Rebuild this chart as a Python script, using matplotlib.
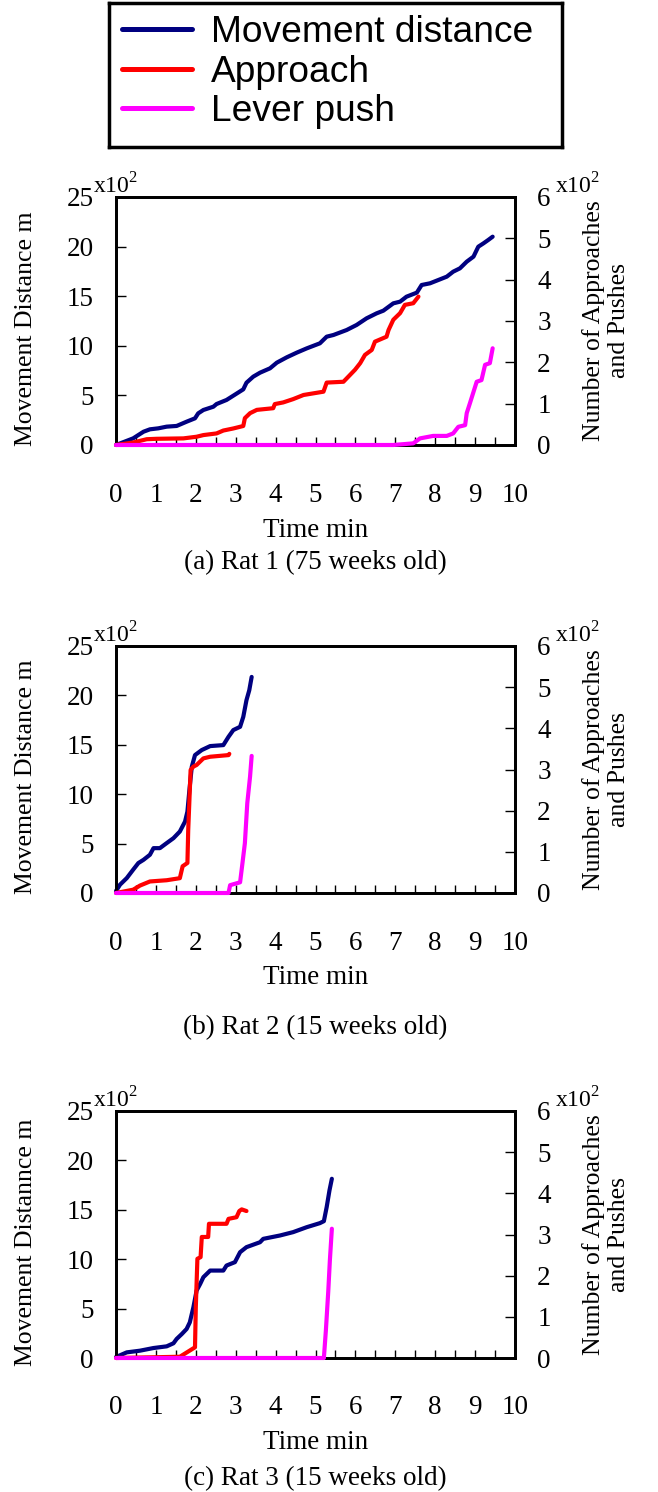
import matplotlib
matplotlib.use('Agg')
import matplotlib.pyplot as plt
from matplotlib.ticker import MultipleLocator

plt.rcParams['font.family'] = 'Liberation Serif'
plt.rcParams['mathtext.fontset'] = 'custom'
plt.rcParams['mathtext.rm'] = 'Liberation Serif'

# values; distance in x10^2 m, counts in x10^2
# Rat 1 (75 weeks old)
r1_dist_t = [0, 0.43, 0.69, 0.85, 1.06, 1.27, 1.52, 1.77, 1.98, 2.06, 2.19, 2.44, 2.52, 2.77, 2.90,
             3.19, 3.27, 3.44, 3.61, 3.86, 4.03, 4.28, 4.53, 4.78, 5.11, 5.28, 5.45, 5.78, 6.03,
             6.28, 6.53, 6.70, 6.95, 7.12, 7.28, 7.54, 7.66, 7.87, 8.29, 8.45, 8.62, 8.79, 8.96,
             9.08, 9.21, 9.33, 9.44]
r1_dist = [0, 0.67, 1.34, 1.58, 1.68, 1.85, 1.92, 2.35, 2.69, 3.19, 3.53, 3.86, 4.13, 4.54, 4.87,
           5.61, 6.28, 6.89, 7.29, 7.73, 8.30, 8.84, 9.31, 9.74, 10.25, 10.92, 11.09, 11.59, 12.10,
           12.77, 13.27, 13.54, 14.28, 14.45, 14.95, 15.36, 16.13, 16.30, 16.97, 17.47, 17.81, 18.48,
           18.99, 19.99, 20.33, 20.67, 21.00]
r1_appr_t = [0, 0.43, 0.77, 1.02, 1.69, 2.02, 2.19, 2.52, 2.69, 2.94, 3.19, 3.23, 3.36, 3.53, 3.94,
             3.98, 4.19, 4.44, 4.70, 4.95, 5.20, 5.28, 5.70, 5.86, 5.99, 6.12, 6.24, 6.41, 6.49,
             6.78, 6.83, 6.95, 7.12, 7.24, 7.45, 7.58]
r1_appr = [0, 0.06, 0.14, 0.15, 0.16, 0.20, 0.24, 0.28, 0.35, 0.40, 0.46, 0.65, 0.77, 0.85, 0.89,
           0.99, 1.03, 1.11, 1.21, 1.25, 1.29, 1.51, 1.53, 1.69, 1.82, 1.98, 2.18, 2.30, 2.50,
           2.62, 2.78, 3.03, 3.19, 3.39, 3.43, 3.59]
r1_push_t = [0, 6.95, 7.45, 7.62, 7.95, 8.29, 8.45, 8.58, 8.75, 8.79, 8.87, 9.04, 9.16, 9.25, 9.37, 9.44]
r1_push = [0, 0, 0.04, 0.16, 0.22, 0.22, 0.28, 0.44, 0.48, 0.77, 1.01, 1.53, 1.57, 1.94, 1.98, 2.34]

# Rat 2 (15 weeks old)
r2_dist_t = [0, 0.10, 0.27, 0.43, 0.56, 0.69, 0.85, 0.94, 1.10, 1.27, 1.44, 1.60, 1.73, 1.79, 1.84,
             1.90, 1.98, 2.15, 2.36, 2.69, 2.82, 2.94, 3.11, 3.19, 3.27, 3.34, 3.40]
r2_dist = [0.2, 0.84, 1.51, 2.36, 3.03, 3.36, 3.87, 4.54, 4.54, 5.05, 5.55, 6.22, 7.23, 8.24, 10.43,
           12.79, 13.96, 14.47, 14.87, 14.97, 15.81, 16.49, 16.82, 17.83, 19.52, 20.52, 21.87]
r2_appr_t = [0, 0.43, 0.60, 0.85, 1.27, 1.60, 1.67, 1.79, 1.81, 1.87, 1.94, 2.02, 2.19, 2.36, 2.82, 2.84]
r2_appr = [0, 0.08, 0.18, 0.28, 0.31, 0.36, 0.65, 0.73, 1.53, 2.99, 3.07, 3.11, 3.27, 3.31, 3.35, 3.38]
r2_push_t = [0, 2.82, 2.86, 3.11, 3.17, 3.23, 3.29, 3.36, 3.40]
r2_push = [0, 0, 0.19, 0.26, 0.73, 1.21, 2.18, 2.83, 3.33]

# Rat 3 (15 weeks old)
r3_dist_t = [0, 0.27, 0.60, 0.94, 1.27, 1.44, 1.52, 1.65, 1.77, 1.85, 1.94, 2.02, 2.11, 2.19, 2.36,
             2.69, 2.77, 2.98, 3.11, 3.27, 3.61, 3.69, 4.11, 4.44, 4.78, 5.11, 5.21, 5.28, 5.35, 5.41]
r3_dist = [0.1, 0.57, 0.74, 1.01, 1.18, 1.49, 1.93, 2.43, 2.94, 3.61, 5.14, 6.82, 7.50, 8.18, 8.85,
           8.85, 9.36, 9.70, 10.71, 11.22, 11.72, 12.06, 12.40, 12.74, 13.24, 13.65, 13.85, 15.27,
           16.96, 18.14]
r3_appr_t = [0, 1.60, 1.98, 2.00, 2.04, 2.12, 2.15, 2.31, 2.33, 2.77, 2.82, 3.02, 3.09, 3.15, 3.27]
r3_appr = [0, 0.03, 0.26, 1.23, 2.41, 2.45, 2.94, 2.94, 3.26, 3.26, 3.38, 3.42, 3.57, 3.61, 3.57]
r3_push_t = [0, 5.21, 5.26, 5.32, 5.36, 5.41]
r3_push = [0, 0, 0.67, 1.62, 2.37, 3.14]

ylabels = ['Movement Distance m', 'Movement Distance m', 'Movement Distannce m']
captions = ['(a) Rat 1 (75 weeks old)', '(b) Rat 2 (15 weeks old)', '(c) Rat 3 (15 weeks old)']
series = [(r1_dist_t, r1_dist, r1_appr_t, r1_appr, r1_push_t, r1_push),
          (r2_dist_t, r2_dist, r2_appr_t, r2_appr, r2_push_t, r2_push),
          (r3_dist_t, r3_dist, r3_appr_t, r3_appr, r3_push_t, r3_push)]
legend_labels = ['Movement distance', 'Approach', 'Lever push']

W, H = 658, 1492
fig = plt.figure(figsize=(W / 100, H / 100), dpi=100)

# axes boxes in pixels: left, top, right, bottom
boxes = [(116, 197, 515, 445), (116, 646, 515, 893), (116, 1111, 515, 1358)]
caption_y = [-0.476, -0.545, -0.487]

fs = 19.5
handles = None
for i in range(3):
    l, t, r, b = boxes[i]
    ax = fig.add_axes([l / W, 1 - b / H, (r - l) / W, (b - t) / H])
    ax2 = ax.twinx()
    dt, d, at, a, pt, p = series[i]
    h1, = ax.plot(dt, d, color='#000080', lw=3, solid_capstyle='round', clip_on=False, zorder=3)
    h2, = ax2.plot(at, a, color='#ff0000', lw=3, solid_capstyle='round', clip_on=False, zorder=3)
    h3, = ax2.plot(pt, p, color='#ff00ff', lw=3, solid_capstyle='round', clip_on=False, zorder=3)
    if handles is None:
        handles = [h1, h2, h3]

    ax.set_xlim(0, 10)
    ax.set_ylim(0, 25)
    ax2.set_ylim(0, 6)
    ax.xaxis.set_major_locator(MultipleLocator(1))
    ax.xaxis.set_minor_locator(MultipleLocator(0.5))
    ax.yaxis.set_major_locator(MultipleLocator(5))
    ax2.yaxis.set_major_locator(MultipleLocator(1))

    ax.tick_params(axis='x', which='both', direction='in', length=6, width=1, pad=27,
                   labelsize=fs, top=False)
    ax.tick_params(axis='y', direction='in', length=7, width=1, pad=16, labelsize=fs)
    ax2.tick_params(axis='y', direction='in', length=7, width=1, pad=16, labelsize=fs)
    for a_ in (ax, ax2):
        for s in a_.spines.values():
            s.set_linewidth(2)

    ax.set_xlabel('Time min', fontsize=fs)
    ax.xaxis.set_label_coords(0.5, -0.343)
    ax.xaxis.label.set_va('center')

    ax.set_ylabel(ylabels[i], fontsize=18.5)
    ax.yaxis.set_label_coords(-0.226, 0.47)
    ax.yaxis.label.set_va('center')

    ax2.set_ylabel('Number of Approaches\nand Pushes', fontsize=18.5, linespacing=1.2)
    ax2.yaxis.set_label_coords(1.228, 0.5)
    ax2.yaxis.label.set_va('center')

    ax.text(-0.058, 1.016, r'x10$^2$', transform=ax.transAxes, fontsize=17,
            ha='left', va='baseline')
    ax.text(1.10, 1.016, r'x10$^2$', transform=ax.transAxes, fontsize=17,
            ha='left', va='baseline')

    ax.text(0.5, caption_y[i], captions[i], transform=ax.transAxes, fontsize=fs,
            ha='center', va='center')

# legend box at the top
leg_ax = fig.add_axes([109 / W, 1 - 147 / H, 453 / W, 144 / H])
leg_ax.set_xticks([])
leg_ax.set_yticks([])
for s in leg_ax.spines.values():
    s.set_linewidth(2.5)
leg = leg_ax.legend(handles, legend_labels, loc='center left', bbox_to_anchor=(0, 0.52),
                    frameon=False, prop={'family': 'Liberation Sans', 'size': 26.7},
                    handlelength=1.9, handletextpad=0.5, labelspacing=0.13,
                    borderaxespad=0, borderpad=0.35)
for ln in leg.get_lines():
    ln.set_linewidth(3.6)

fig.savefig('out.png', dpi=100)
